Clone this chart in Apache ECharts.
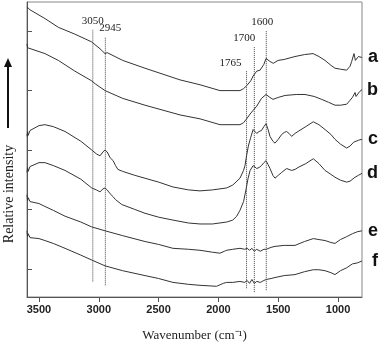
<!DOCTYPE html>
<html lang="en">

<head>
    <meta charset="UTF-8">
    <title>Spectra</title>
    <style>
        html, body { margin: 0; padding: 0; background: #fff; }
    </style>
</head>

<body>
    <div id="main" style="width: 385px; height: 347px"></div>
    <script src="https://cdn.jsdelivr.net/npm/echarts@6/dist/echarts.min.js"></script>
    <script type="text/javascript">
        var myChart = echarts.init(document.getElementById('main'));

        // [wavenumber, relative intensity (offset units)]
        var specA = [[3600, 298], [3590, 300], [3575, 295], [3560, 295], [3450, 286], [3338, 277], [3200, 270], [3059, 262], [3050, 263], [3040, 260], [2990, 255], [2948, 250], [2930, 251], [2800, 243], [2614, 235], [2321, 223], [2154, 218], [1987, 212], [1820, 212], [1790, 214], [1764, 217], [1730, 222], [1710, 227], [1680, 232], [1652, 233], [1620, 239], [1602, 245], [1570, 242], [1541, 240], [1502, 243], [1450, 244], [1360, 247], [1280, 249], [1209, 250], [1160, 247], [1109, 243], [1060, 238], [1026, 235], [980, 234], [928, 233], [900, 237], [886, 242], [867, 250], [855, 243], [844, 242], [830, 247], [817, 248], [800, 246]];
        var specB = [[3600, 260], [3595, 256], [3590, 258], [3450, 250], [3338, 243], [3200, 232], [3059, 222], [3050, 223], [3030, 219], [2948, 212], [2800, 204], [2614, 197], [2321, 187], [2154, 183], [1987, 177], [1820, 177], [1790, 179], [1764, 183], [1735, 188], [1708, 192], [1680, 196], [1640, 204], [1602, 208], [1570, 205], [1544, 203], [1500, 205], [1443, 207], [1350, 208], [1276, 208], [1200, 206], [1137, 203], [1080, 200], [1026, 197], [980, 197], [928, 198], [900, 202], [880, 205], [858, 210], [850, 206], [840, 208], [820, 211], [800, 213]];
        var specC = [[3600, 165], [3595, 170], [3590, 166], [3575, 171], [3561, 172], [3500, 176], [3450, 177], [3380, 175], [3282, 170], [3150, 160], [3059, 151], [3020, 147], [2990, 145], [2965, 149], [2948, 151], [2930, 149], [2905, 143], [2880, 140], [2860, 135], [2840, 131], [2800, 129], [2700, 125], [2614, 122], [2500, 118], [2380, 113], [2250, 110], [2154, 109], [2050, 110], [1931, 112], [1880, 115], [1820, 122], [1790, 130], [1778, 135], [1765, 145], [1750, 155], [1730, 164], [1710, 172], [1694, 170], [1680, 168], [1660, 170], [1640, 171], [1620, 175], [1602, 178], [1585, 172], [1569, 165], [1545, 160], [1527, 158], [1500, 162], [1471, 167], [1450, 169], [1430, 170], [1410, 168], [1388, 165], [1360, 168], [1335, 170], [1270, 175], [1207, 180], [1160, 177], [1109, 172], [1060, 167], [1026, 162], [980, 157], [928, 153], [900, 155], [870, 159], [858, 160], [830, 161], [800, 162]];
        var specD = [[3600, 128], [3595, 133], [3590, 129], [3575, 134], [3561, 135], [3500, 138], [3450, 138], [3380, 135], [3282, 130], [3150, 121], [3059, 112], [3020, 110], [2990, 108], [2965, 111], [2948, 112], [2930, 110], [2905, 106], [2880, 103], [2860, 100], [2808, 95], [2700, 90], [2614, 86], [2500, 82], [2380, 79], [2250, 76], [2154, 75], [2050, 75], [1931, 77], [1880, 79], [1847, 83], [1820, 89], [1790, 98], [1770, 110], [1752, 122], [1735, 130], [1710, 135], [1694, 135], [1680, 132], [1660, 133], [1640, 135], [1620, 138], [1602, 140], [1585, 136], [1569, 132], [1545, 125], [1527, 122], [1500, 125], [1471, 128], [1430, 132], [1410, 131], [1388, 130], [1360, 131], [1335, 133], [1270, 137], [1207, 142], [1160, 137], [1109, 130], [1060, 126], [1026, 123], [980, 120], [928, 118], [900, 119], [858, 123], [830, 125], [800, 127]];
        var specE = [[3600, 105], [3595, 99], [3590, 102], [3575, 98], [3561, 99], [3500, 96], [3450, 93], [3380, 89], [3282, 83], [3150, 77], [3059, 72], [2948, 68], [2800, 63], [2614, 57], [2500, 54], [2380, 50], [2250, 49], [2154, 48], [2050, 46], [1987, 45], [1950, 47], [1931, 48], [1880, 49], [1820, 50], [1780, 49], [1760, 50], [1740, 48], [1720, 50], [1700, 47], [1680, 49], [1650, 47], [1620, 49], [1600, 49], [1560, 51], [1527, 52], [1450, 53], [1360, 53], [1280, 57], [1207, 60], [1160, 59], [1109, 58], [1060, 56], [1026, 55], [980, 59], [928, 62], [880, 65], [840, 67], [800, 68]];
        var specF = [[3600, 68], [3595, 62], [3590, 65], [3575, 61], [3561, 62], [3500, 60], [3450, 58], [3380, 55], [3282, 50], [3150, 43], [3059, 38], [2948, 32], [2800, 27], [2614, 22], [2500, 19], [2380, 15], [2250, 13], [2154, 12], [2015, 11], [1960, 14], [1931, 15], [1880, 15], [1820, 16], [1780, 15], [1760, 17], [1740, 14], [1720, 18], [1700, 14], [1680, 16], [1650, 15], [1620, 17], [1600, 18], [1560, 19], [1527, 20], [1450, 22], [1360, 23], [1280, 26], [1207, 28], [1160, 28], [1109, 27], [1060, 25], [1026, 23], [980, 27], [928, 30], [880, 34], [840, 35], [800, 37]];

        var traceNames = ['a', 'b', 'c', 'd', 'e', 'f'];
        var traces = [specA, specB, specC, specD, specE, specF];

        // dotted marker lines
        var peakPos = [3050, 2945, 1765, 1700, 1600];
        var peakLow = [16, 12, 9, 5, 7];
        var peakHigh = [275, 267, 232, 257, 274];
        var peakLabelShift = [0, 5, -16, -10, -4];

        var xTicks = [3500, 3000, 2500, 2000, 1500, 1000];
        var yTicks = [29, 90, 151, 212, 273];

        var series = [];
        for (var i = 0; i < traces.length; i++) {
            series.push({
                name: traceNames[i],
                type: 'line',
                data: traces[i],
                showSymbol: false,
                silent: true,
                lineStyle: { color: '#333', width: 1 },
                endLabel: {
                    show: true,
                    formatter: traceNames[i],
                    distance: 7,
                    offset: [23, 0],
                    fontFamily: 'Liberation Sans',
                    fontWeight: 'bold',
                    fontSize: 18,
                    color: '#111'
                }
            });
        }
        for (var j = 0; j < peakPos.length; j++) {
            series.push({
                type: 'line',
                data: [[peakPos[j], peakLow[j]], {
                    value: [peakPos[j], peakHigh[j]],
                    label: {
                        show: true,
                        position: 'top',
                        distance: 3,
                        offset: [peakLabelShift[j], 0],
                        formatter: String(peakPos[j]),
                        fontFamily: 'Liberation Serif',
                        fontSize: 11,
                        color: '#222'
                    }
                }],
                symbol: 'circle',
                symbolSize: 0,
                showSymbol: true,
                silent: true,
                lineStyle: { color: '#444', width: 1, type: 'dotted' }
            });
        }

        var option = {
            animation: false,
            grid: {
                left: 27, right: 23, top: 2, bottom: 42,
                show: true, borderColor: '#888', borderWidth: 1
            },
            xAxis: {
                type: 'value',
                inverse: true,
                min: 800,
                max: 3600,
                name: 'Wavenumber (cm\u207B\u00B9)',
                nameLocation: 'middle',
                nameGap: 32,
                nameTextStyle: { fontFamily: 'Liberation Serif', fontSize: 13, color: '#222' },
                axisLine: { lineStyle: { color: '#555' } },
                axisTick: { inside: false, length: 5, customValues: xTicks, lineStyle: { color: '#555' } },
                axisLabel: {
                    customValues: xTicks,
                    formatter: function (v) { return String(v); },
                    fontFamily: 'Liberation Sans', fontWeight: 'bold', fontSize: 11,
                    color: '#222', margin: 7
                },
                splitLine: { show: false }
            },
            yAxis: {
                type: 'value',
                min: 0,
                max: 303,
                axisLine: { show: true, lineStyle: { color: '#555' } },
                axisTick: { show: true, inside: true, length: 5, customValues: yTicks, lineStyle: { color: '#555' } },
                axisLabel: { show: false },
                splitLine: { show: false }
            },
            graphic: [{
                type: 'text',
                x: 9,
                y: 194,
                rotation: Math.PI / 2,
                style: {
                    text: 'Relative intensity',
                    font: '14px "Liberation Serif"',
                    fill: '#222',
                    align: 'center',
                    verticalAlign: 'middle'
                }
            }, {
                type: 'line',
                shape: { x1: 8, y1: 128, x2: 8, y2: 64 },
                style: { stroke: '#111', lineWidth: 2 }
            }, {
                type: 'polygon',
                shape: { points: [[8, 58], [4, 67], [12, 67]] },
                style: { fill: '#111' }
            }],
            series: series
        };
        myChart.setOption(option);
    </script>

</body>

</html>
